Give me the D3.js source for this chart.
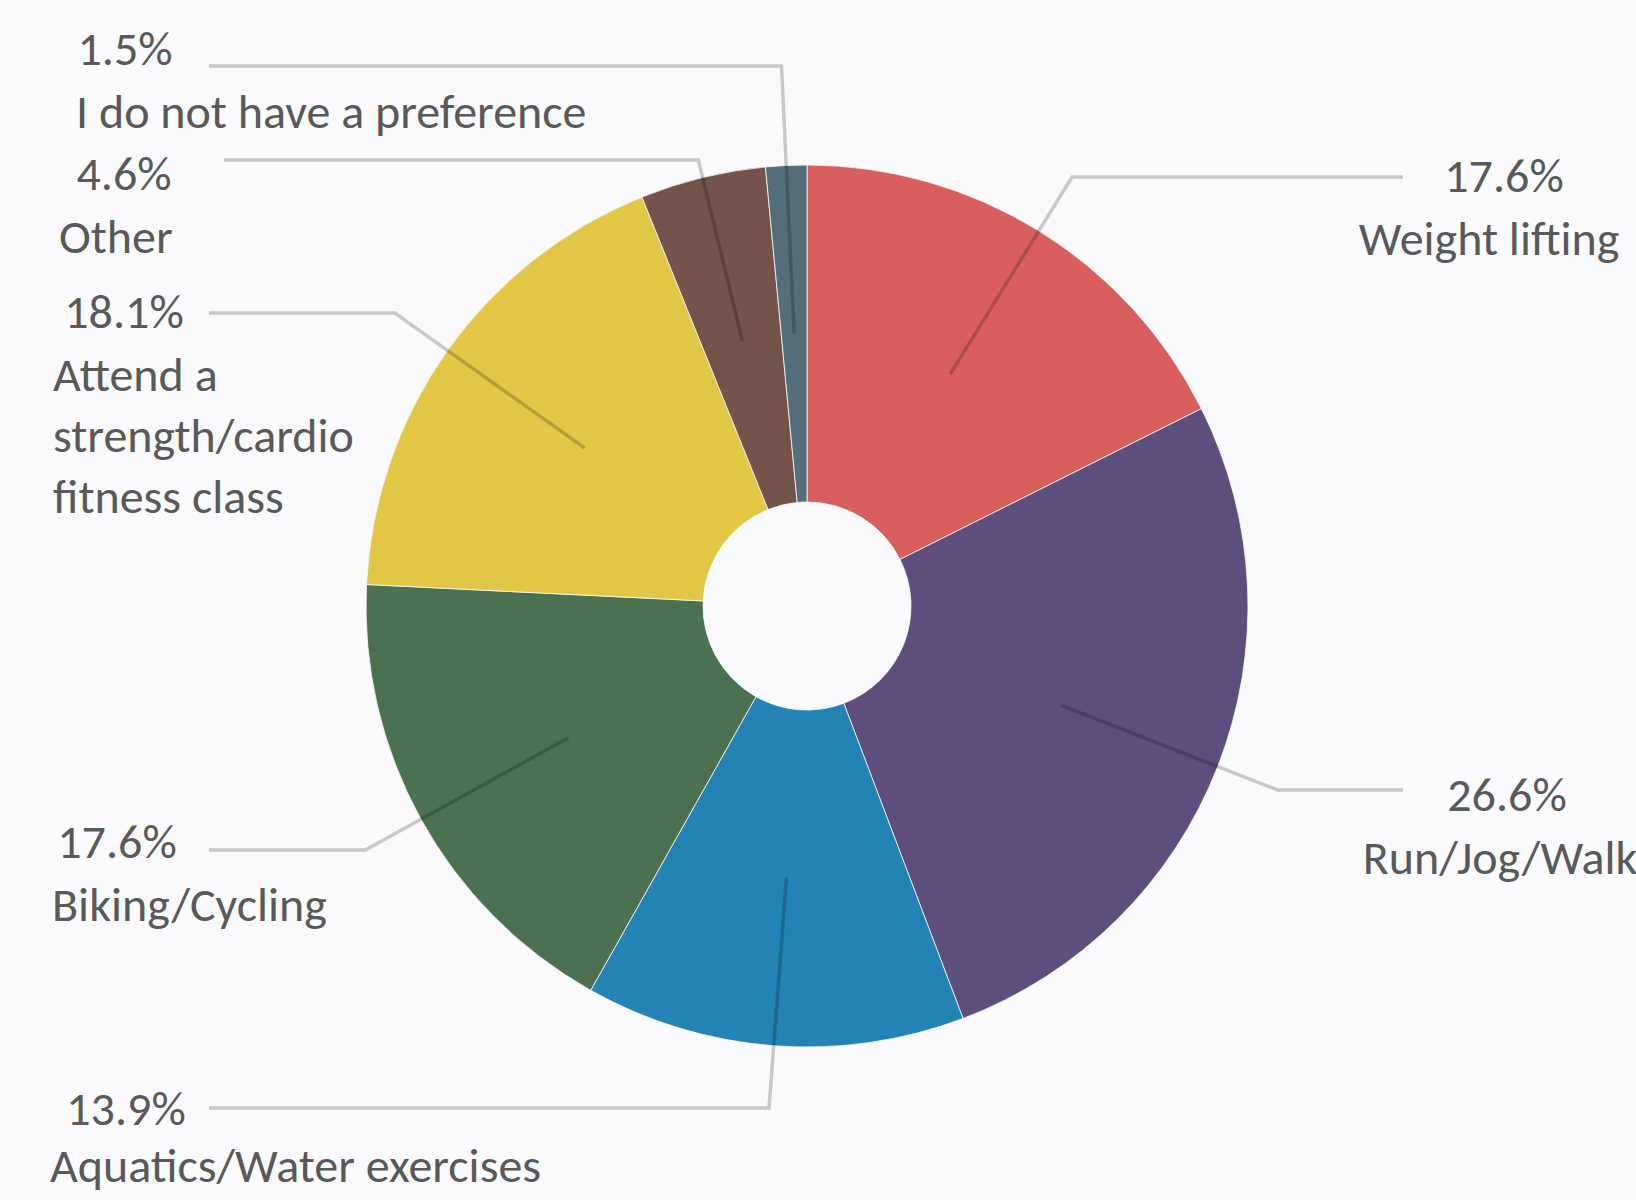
<!DOCTYPE html>
<html>
<head>
<meta charset="utf-8">
<script src="https://cdn.jsdelivr.net/npm/d3@7"></script>
<style>
  html, body { margin: 0; padding: 0; background: #FAFAFC; }
  svg { display: block; }
  .label { font-family: Carlito, Calibri, Lato, sans-serif; font-size: 48px; fill: #595959; }
</style>
</head>
<body>
<script>
// data
var categories = ["Weight lifting", "Run/Jog/Walk", "Aquatics/Water exercises", "Biking/Cycling",
                  "Attend a strength/cardio fitness class", "Other", "I do not have a preference"];
var values = [17.6, 26.6, 13.9, 17.6, 18.1, 4.6, 1.5];
var percentLabels = ["17.6%", "26.6%", "13.9%", "17.6%", "18.1%", "4.6%", "1.5%"];
var nameLines = [["Weight lifting"], ["Run/Jog/Walk"], ["Aquatics/Water exercises"], ["Biking/Cycling"],
                 ["Attend a", "strength/cardio", "fitness class"], ["Other"], ["I do not have a preference"]];
var colors = ["#D95F5E", "#5E4E7D", "#2383B4", "#4B7150", "#E2C746", "#74534A", "#546E7A"];

var width = 1636;
var height = 1200;
var cx = 807, cy = 606;
var innerRadius = 104;
var outerRadius = 441;

// where each label sits (line height, text anchors)
var labelLayout = [
  { lineY: 177,  endX: 1403, pctX: 1504, pctY: 192,  nameX: 1489, nameY: 255,  nameAnchor: "middle" },
  { lineY: 790,  endX: 1403, pctX: 1507, pctY: 811,  nameX: 1500, nameY: 874,  nameAnchor: "middle" },
  { lineY: 1108, endX: 209,  pctX: 126,  pctY: 1125, nameX: 50,   nameY: 1182, nameAnchor: "start" },
  { lineY: 850,  endX: 209,  pctX: 117,  pctY: 858,  nameX: 52,   nameY: 921,  nameAnchor: "start" },
  { lineY: 313,  endX: 209,  pctX: 124,  pctY: 328,  nameX: 53,   nameY: 391,  nameAnchor: "start" },
  { lineY: 160,  endX: 224,  pctX: 124,  pctY: 190,  nameX: 59,   nameY: 253,  nameAnchor: "start" },
  { lineY: 66,   endX: 209,  pctX: 125,  pctY: 65,   nameX: 76,   nameY: 128,  nameAnchor: "start" }
];
var lineGap = 61;

var svg = d3.select("body")
            .append("svg")
            .attr("width", width)
            .attr("height", height);

svg.append("rect")
   .attr("width", width)
   .attr("height", height)
   .attr("fill", "#FAFAFC");

var pieGroup = svg.append("g").attr("transform", `translate(${cx}, ${cy})`);

var pie = d3.pie()
            .sort(null)
            .value(function(d) { return d; });

var arc = d3.arc()
            .innerRadius(innerRadius)
            .outerRadius(outerRadius);

var arcs = pie(values);

// slices
pieGroup.selectAll("path.slice")
        .data(arcs)
        .enter()
        .append("path")
        .attr("class", "slice")
        .attr("d", arc)
        .attr("fill", function(d, i) { return colors[i]; })
        .attr("stroke", "#FAFAFC")
        .attr("stroke-width", 0.8);

// leader lines: centroid -> radial elbow at label height -> horizontal to label
var midR = (innerRadius + outerRadius) / 2;
pieGroup.selectAll("polyline.leader")
        .data(arcs)
        .enter()
        .append("polyline")
        .attr("class", "leader")
        .attr("points", function(d, i) {
            var mid = (d.startAngle + d.endAngle) / 2;
            var sx = Math.sin(mid), sy = -Math.cos(mid);
            var ly = labelLayout[i].lineY - cy;
            var t = ly / sy;
            return [[midR * sx, midR * sy], [t * sx, ly], [labelLayout[i].endX - cx, ly]]
                   .map(function(p) { return p.join(","); }).join(" ");
        })
        .attr("fill", "none")
        .attr("stroke", "#000")
        .attr("stroke-opacity", 0.2)
        .attr("stroke-width", 3.5);

// percentages
svg.selectAll("text.pct")
   .data(arcs)
   .enter()
   .append("text")
   .attr("class", "label pct")
   .attr("x", function(d, i) { return labelLayout[i].pctX; })
   .attr("y", function(d, i) { return labelLayout[i].pctY; })
   .attr("text-anchor", "middle")
   .text(function(d, i) { return percentLabels[i]; });

// category names
var names = svg.selectAll("text.name")
               .data(arcs)
               .enter()
               .append("text")
               .attr("class", "label name")
               .attr("text-anchor", function(d, i) { return labelLayout[i].nameAnchor; });

names.each(function(d, i) {
    var lay = labelLayout[i];
    d3.select(this).selectAll("tspan")
      .data(nameLines[i])
      .enter()
      .append("tspan")
      .attr("x", lay.nameX)
      .attr("y", function(s, k) { return lay.nameY + k * lineGap; })
      .text(function(s) { return s; });
});
</script>
</body>
</html>
